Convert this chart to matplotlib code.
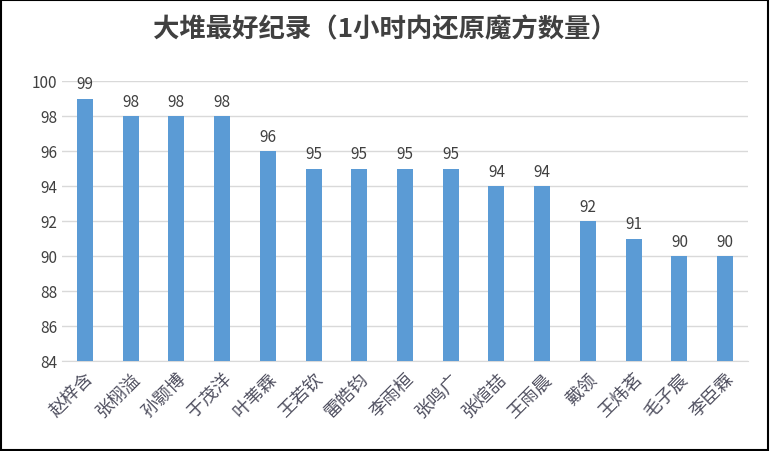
import matplotlib
matplotlib.use("Agg")
import matplotlib.pyplot as plt

plt.rcParams['font.family'] = ['Noto Sans CJK SC', 'DejaVu Sans']

names = ["赵梓含","张栩溢","孙颢博","于茂洋","叶苇霖","王若钦","雷皓钧","李雨桓","张鸣广","张煊喆","王雨晨","戴领","王炜茗","毛子宸","李臣霖"]
values = [99,98,98,98,96,95,95,95,95,94,94,92,91,90,90]
yticks = [84,86,88,90,92,94,96,98,100]

fig = plt.figure(figsize=(7.7,4.52), dpi=100)
fig.patches.append(plt.Rectangle((0.001,0.002),0.997,0.995, transform=fig.transFigure, fill=False, edgecolor='black', lw=1.5))
ax = fig.add_axes([62/770, 1-362/452, (748-62)/770, (362-82)/452])
x = range(len(names))
ax.bar(x, [v-84 for v in values], bottom=84, width=0.35, color='#5B9BD5', zorder=3)
for i, v in zip(x, values):
    ax.text(i, v+0.35, str(v), ha='center', va='bottom', fontsize=11, color='#404040')
ax.set_ylim(84,100)
ax.set_xlim(-0.5, len(names)-0.5)
ax.set_yticks(yticks)
ax.tick_params(axis='y', length=0, labelsize=11, labelcolor='#404040')
ax.tick_params(axis='x', length=0, pad=6)
ax.set_xticks(list(x))
ax.set_xticklabels(names, rotation=45, ha='right', rotation_mode='anchor', fontsize=13, color='#505060', family=['Noto Sans CJK SC'])
ax.grid(axis='y', color='#D9D9D9', lw=1, zorder=0)
for s in ['top','right','left']:
    ax.spines[s].set_visible(False)
ax.spines['bottom'].set_color('#D9D9D9')
fig.text(0.5, 1-30/452, "大堆最好纪录（1小时内还原魔方数量）", ha='center', va='center', fontsize=19, color='#404040', fontweight='bold')
fig.savefig("out.png", dpi=100)
